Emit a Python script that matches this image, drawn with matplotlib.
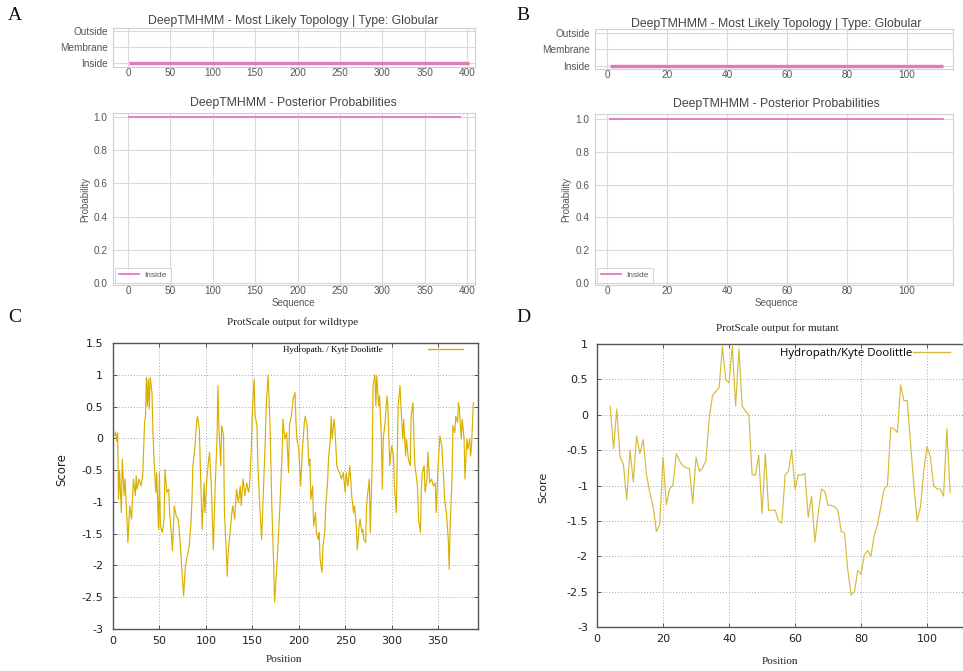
import matplotlib
matplotlib.use('Agg')
import matplotlib.pyplot as plt
from matplotlib.lines import Line2D

# ---------------- data ----------------
topology_labels = ['Inside', 'Membrane', 'Outside']

# Panel A (wildtype, DeepTMHMM)
wt_topology_x = [1, 402]
wt_topology_state = ['Inside', 'Inside']
wt_posterior_x = [1, 392]
wt_posterior_inside = [1.0, 1.0]
wt_xticks = [0, 50, 100, 150, 200, 250, 300, 350, 400]

# Panel B (mutant, DeepTMHMM)
mut_topology_x = [1, 112]
mut_topology_state = ['Inside', 'Inside']
mut_posterior_x = [1, 112]
mut_posterior_inside = [1.0, 1.0]
mut_xticks = [0, 20, 40, 60, 80, 100]

prob_ticks = [0.0, 0.2, 0.4, 0.6, 0.8, 1.0]

# Panel C (wildtype, ProtScale Kyte-Doolittle)
wt_pos = [2, 3, 4, 5, 6, 7, 9, 10, 12, 13,
          15, 16, 18, 20, 22, 24, 25, 26, 28, 30,
          32, 34, 35, 36, 37, 38, 39, 40, 42, 43,
          44, 46, 47, 48, 49, 50, 51, 53, 55, 56,
          58, 60, 61, 63, 64, 66, 68, 70, 71, 73,
          75, 76, 78, 80, 82, 84, 85, 86, 88, 90,
          91, 93, 94, 96, 98, 99, 101, 103, 104, 106,
          108, 110, 112, 113, 114, 116, 117, 119, 120, 122,
          123, 124, 126, 128, 129, 131, 133, 135, 137, 138,
          140, 142, 144, 146, 147, 149, 150, 152, 153, 155,
          156, 158, 160, 162, 164, 165, 167, 169, 171, 173,
          174, 176, 178, 180, 182, 183, 185, 187, 189, 190,
          192, 194, 196, 197, 198, 200, 202, 204, 206, 207,
          209, 211, 212, 213, 215, 216, 218, 219, 221, 222,
          223, 225, 226, 228, 229, 231, 232, 234, 235, 236,
          238, 239, 241, 242, 244, 246, 248, 250, 251, 253,
          255, 257, 259, 260, 262, 263, 265, 266, 268, 269,
          270, 272, 273, 274, 276, 277, 279, 280, 282, 283,
          284, 286, 287, 289, 290, 291, 293, 295, 296, 298,
          300, 302, 303, 305, 306, 307, 309, 310, 312, 313,
          315, 316, 318, 320, 321, 323, 324, 325, 327, 328,
          329, 331, 332, 333, 335, 336, 338, 339, 341, 343,
          345, 347, 348, 350, 352, 354, 356, 357, 359, 361,
          362, 363, 365, 366, 368, 369, 371, 372, 373, 375,
          376, 378, 379, 381, 382, 384, 385, 386, 388]
wt_score = [0.05, 0.1, -0.05, 0.08, -0.96, -0.5, -1.17, -0.33, -0.9, -0.64,
            -1.27, -1.64, -1.06, -1.27, -0.64, -0.9, -0.59, -0.8, -0.64, -0.75,
            -0.59, 0.25, 0.35, 0.96, 0.51, 0.93, 0.46, 0.96, 0.72, 0.09,
            -0.28, -0.85, -0.54, -0.96, -1.43, -0.54, -1.38, -1.48, -1.27, -0.49,
            -0.85, -0.8, -1.17, -1.54, -1.77, -1.06, -1.22, -1.27, -1.38, -1.8,
            -2.27, -2.48, -2.0, -1.85, -1.7, -1.33, -0.96, -0.43, -0.17, 0.25,
            0.35, 0.14, -0.43, -1.43, -0.7, -1.17, -0.64, -0.33, -0.22, -0.8,
            -1.75, -0.75, -0.01, 0.83, 0.2, -0.43, 0.2, 0.04, -1.17, -1.8,
            -2.17, -1.8, -1.48, -1.17, -1.06, -1.27, -0.8, -1.01, -0.75, -1.06,
            -0.64, -0.9, -0.7, -0.85, -0.75, -0.12, 0.41, 0.93, 0.35, 0.2,
            -0.43, -1.06, -1.59, -0.8, -0.01, 0.51, 1.0, 0.25, -1.06, -2.0,
            -2.58, -2.11, -1.59, -0.96, -0.28, 0.3, -0.01, 0.09, -0.54, 0.2,
            0.35, 0.62, 0.72, 0.25, -0.01, -0.17, -0.75, -0.17, 0.25, 0.35,
            0.2, -0.43, -0.33, -0.96, -0.75, -1.38, -1.17, -1.48, -1.59, -1.48,
            -1.9, -2.11, -1.7, -1.48, -1.06, -0.7, -0.33, -0.01, 0.35, -0.01,
            0.3, 0.14, -0.43, -0.49, -0.54, -0.64, -0.54, -0.85, -0.54, -0.75,
            -0.43, -0.9, -1.17, -1.06, -1.38, -1.75, -1.38, -1.27, -1.48, -1.43,
            -1.59, -1.64, -1.06, -0.9, -0.64, -1.48, -0.43, 0.83, 1.0, 0.51,
            0.98, 0.51, 0.67, -0.01, -0.8, -0.01, 0.25, 0.67, 0.51, -0.43,
            -0.12, -0.28, -0.75, -1.17, -0.28, 0.51, 0.83, 0.51, -0.01, 0.3,
            -0.28, -0.01, -0.33, -0.43, 0.35, 0.56, -0.01, -0.43, -0.64, -0.8,
            -1.27, -1.48, -0.8, -0.54, -0.43, -0.85, -0.64, -0.22, -0.7, -0.64,
            -0.75, -0.7, -1.17, -0.43, 0.04, -0.12, -0.64, -0.96, -1.17, -1.59,
            -2.06, -1.38, -0.64, 0.2, 0.09, 0.35, 0.25, 0.56, 0.46, -0.01,
            0.3, -0.01, -0.64, -0.01, -0.17, -0.01, -0.28, -0.12, 0.56]
wt_score_ticks = [1.5, 1, 0.5, 0, -0.5, -1, -1.5, -2, -2.5, -3]
wt_pos_ticks = [0, 50, 100, 150, 200, 250, 300, 350]

# Panel D (mutant, ProtScale Kyte-Doolittle)
mut_pos = list(range(4, 108))
mut_score = [0.12, -0.48, 0.08, -0.6, -0.7, -1.2, -0.5, -0.95, -0.3, -0.55,
             -0.35, -0.85, -1.1, -1.3, -1.65, -1.55, -0.6, -1.27, -1.05, -1.0,
             -0.55, -0.65, -0.72, -0.75, -0.76, -1.25, -0.6, -0.8, -0.75, -0.65,
             -0.05, 0.27, 0.33, 0.38, 0.97, 0.5, 0.45, 0.97, 0.12, 0.93,
             0.12, 0.05, 0.0, -0.85, -0.85, -0.57, -1.4, -0.55, -1.35, -1.35,
             -1.35, -1.5, -1.53, -0.85, -0.8, -0.5, -1.05, -0.85, -0.85, -0.83,
             -1.45, -1.15, -1.8, -1.4, -1.05, -1.08, -1.28, -1.28, -1.3, -1.35,
             -1.65, -1.67, -2.2, -2.55, -2.5, -2.2, -2.25, -1.98, -1.92, -2.0,
             -1.7, -1.55, -1.3, -1.05, -1.0, -0.18, -0.2, -0.25, 0.42, 0.2,
             0.2, -0.4, -1.0, -1.5, -1.3, -0.8, -0.45, -0.6, -1.0, -1.05,
             -1.05, -1.15, -0.2, -1.1]
mut_score_ticks = [1, 0.5, 0, -0.5, -1, -1.5, -2, -2.5, -3]
mut_pos_ticks = [0, 20, 40, 60, 80, 100]

# ---------------- figure ----------------
W, H = 963, 671
fig = plt.figure(figsize=(W / 100, H / 100), dpi=100)
fig.patch.set_facecolor('white')

SANS = 'Liberation Sans'
SERIF = 'Liberation Serif'
GRAY = '#555555'
PINK = '#e377c2'


def add_ax(l, t, r, b):
    return fig.add_axes([l / W, 1 - b / H, (r - l) / W, (b - t) / H])


def txt(x, y, s, **kw):
    return fig.text(x / W, 1 - y / H, s, ha='center', va='center', **kw)


def style_deep(ax, xpad=0.5, ypad=4.0):
    for s in ax.spines.values():
        s.set_color('#d0d0d0')
        s.set_linewidth(0.8)
    ax.grid(True, color='#dadada', lw=0.8)
    ax.set_axisbelow(True)
    ax.tick_params(axis='both', length=0, labelsize=7.2, labelcolor=GRAY,
                   labelfontfamily=SANS)
    ax.tick_params(axis='x', pad=xpad)
    ax.tick_params(axis='y', pad=ypad)


def deep_panels(topo_box, post_box, topo_x, topo_state, post_x, post_val,
                xticks, xlim, topo_ylim, post_ylim, cx, t1y, t2y, ylab_x):
    ax = add_ax(*topo_box)
    ax.plot(topo_x, [topology_labels.index(s) for s in topo_state],
            color=PINK, lw=2.4, solid_capstyle='butt')
    ax.set_yticks([0, 1, 2])
    ax.set_yticklabels(topology_labels)
    ax.set_xticks(xticks)
    ax.set_xlim(*xlim)
    ax.set_ylim(*topo_ylim)
    style_deep(ax, xpad=0.5, ypad=3.8)
    txt(cx, t1y, 'DeepTMHMM - Most Likely Topology | Type: Globular',
        fontsize=8.8, color='#444444', family=SANS)

    ax2 = add_ax(*post_box)
    ax2.plot(post_x, post_val, color=PINK, lw=1.3, label='Inside')
    ax2.set_xticks(xticks)
    ax2.set_yticks(prob_ticks)
    ax2.set_yticklabels(['%.1f' % v for v in prob_ticks])
    ax2.set_xlim(*xlim)
    ax2.set_ylim(*post_ylim)
    style_deep(ax2, xpad=0.5, ypad=4.2)
    leg = ax2.legend(loc='lower left', fontsize=6, frameon=True, fancybox=False,
                     handlelength=2.4, handletextpad=0.7, borderpad=0.45,
                     borderaxespad=0.25, prop={'family': SANS, 'size': 6})
    leg.get_frame().set_edgecolor('#cccccc')
    leg.get_frame().set_linewidth(0.7)
    for t in leg.get_texts():
        t.set_color(GRAY)
    txt(cx, t2y, 'DeepTMHMM - Posterior Probabilities',
        fontsize=8.8, color='#444444', family=SANS)
    txt(ylab_x, 199, 'Probability', rotation=90, fontsize=7, color=GRAY, family=SANS)
    txt(cx, 303, 'Sequence', fontsize=7, color=GRAY, family=SANS)


deep_panels((113, 28, 475, 67), (113, 113, 475, 285),
            wt_topology_x, wt_topology_state, wt_posterior_x, wt_posterior_inside,
            wt_xticks, (-17.7, 409.4), (-0.25, 2.2), (-0.012, 1.024),
            293, 21, 103, 85)
deep_panels((595, 29, 953, 69), (595, 114, 953, 285),
            mut_topology_x, mut_topology_state, mut_posterior_x, mut_posterior_inside,
            mut_xticks, (-4.0, 115.4), (-0.18, 2.24), (-0.012, 1.03),
            776, 24, 104, 566)


def style_prot(ax, ypad, xpad):
    for s in ax.spines.values():
        s.set_color('#555555')
        s.set_linewidth(1.0)
    ax.grid(True, color='#a8a8a8', linestyle=(0, (1, 2)), lw=0.7)
    ax.set_axisbelow(True)
    ax.tick_params(direction='in', length=3, width=0.7, color='#555555',
                   top=True, right=True, labelsize=8, labelcolor='#222222',
                   labelfontfamily='DejaVu Sans')
    ax.tick_params(axis='y', pad=ypad)
    ax.tick_params(axis='x', pad=xpad)


# Panel C
axc = add_ax(113, 343, 478, 629)
c_col = '#d9b000'
axc.plot(wt_pos, wt_score, color=c_col, lw=0.85)
axc.set_xlim(0, 393)
axc.set_ylim(-3, 1.5)
axc.set_yticks(wt_score_ticks)
axc.set_yticklabels(['%g' % v for v in wt_score_ticks])
axc.set_xticks(wt_pos_ticks)
axc.set_xticklabels(['%g' % v for v in wt_pos_ticks])
style_prot(axc, 7.0, 5.4)
axc.legend(handles=[Line2D([], [], color=c_col, lw=1.0)],
           labels=['Hydropath. / Kyte Doolittle'], loc='center right',
           bbox_to_anchor=(0.959, 0.9755), markerfirst=False, frameon=False,
           prop={'family': SERIF, 'size': 6.5}, handlelength=3.9,
           handletextpad=5.0, borderpad=0, borderaxespad=0)
txt(293, 322, 'ProtScale output for wildtype', fontsize=8, family=SERIF, color='#222222')
txt(284, 660, 'Position', fontsize=8, family=SERIF, color='#222222')
txt(62, 470, 'Score', rotation=90, fontsize=8.5, family='DejaVu Sans', color='#222222')

# Panel D
axd = add_ax(597, 344, 966, 627)
d_col = '#d6bb3a'
axd.plot(mut_pos, mut_score, color=d_col, lw=0.85)
axd.set_xlim(0, 111.8)
axd.set_ylim(-3, 1)
axd.set_yticks(mut_score_ticks)
axd.set_yticklabels(['%g' % v for v in mut_score_ticks])
axd.set_xticks(mut_pos_ticks)
axd.set_xticklabels(['%g' % v for v in mut_pos_ticks])
style_prot(axd, 6.5, 5.4)
axd.legend(handles=[Line2D([], [], color=d_col, lw=1.0)],
           labels=['Hydropath/Kyte Doolittle'], loc='center right',
           bbox_to_anchor=(0.9566, 0.968), markerfirst=False, frameon=False,
           prop={'family': 'Open Sans', 'size': 8.2}, handlelength=3.25,
           handletextpad=0.1, borderpad=0, borderaxespad=0)
txt(777, 328, 'ProtScale output for mutant', fontsize=8, family=SERIF, color='#222222')
txt(780, 661, 'Position', fontsize=8, family=SERIF, color='#222222')
txt(543, 487, 'Score', rotation=90, fontsize=8, family='DejaVu Sans', color='#222222')

# Panel letters
for letter, (x, y) in zip(['A', 'B', 'C', 'D'], [(15, 15), (523, 16), (15, 318), (523, 318)]):
    txt(x, y, letter, fontsize=14, family=SERIF, color='#111111')

fig.savefig('out.png', dpi=100, facecolor='white')
